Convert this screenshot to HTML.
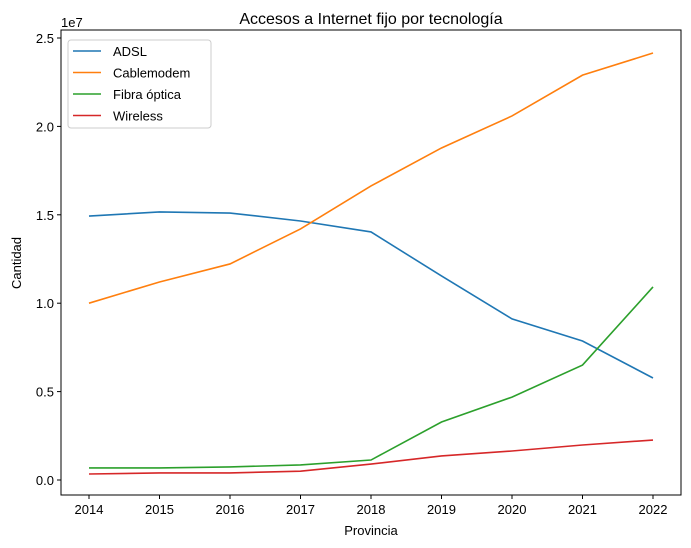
<!DOCTYPE html>
<html><head><meta charset="utf-8"><style>
body{margin:0;background:#fff;}
svg{display:block;font-family:"Liberation Sans","DejaVu Sans",sans-serif;}
</style></head><body>
<svg id="chart" width="691" height="548" viewBox="0 0 691 548"></svg>
<script>
const years=[2014,2015,2016,2017,2018,2019,2020,2021,2022];
const adsl=[1.493,1.516,1.51,1.465,1.403,1.154,0.911,0.786,0.577];
const cable=[1.0,1.12,1.222,1.42,1.663,1.878,2.059,2.29,2.415];
const fibra=[0.068,0.068,0.074,0.085,0.113,0.328,0.469,0.65,1.092];
const wireless=[0.034,0.04,0.04,0.05,0.09,0.136,0.164,0.198,0.226];
const yTicks=[0,0.5,1.0,1.5,2.0,2.5];
const yTickLabels=["0.0","0.5","1.0","1.5","2.0","2.5"];
const seriesNames=["ADSL","Cablemodem","Fibra óptica","Wireless"];
const seriesColors=["#1f77b4","#ff7f0e","#2ca02c","#d62728"];
const seriesData=[adsl,cable,fibra,wireless];

const NS="http://www.w3.org/2000/svg";
const svg=document.getElementById('chart');
const L=61,R=681,T=30,B=495;
const x=v=>89+(v-2014)*(653-89)/8;
const y=v=>480-v*(480-38)/2.5;
function mk(tag,attrs,parent){const e=document.createElementNS(NS,tag);for(const k in attrs)e.setAttribute(k,attrs[k]);(parent||svg).appendChild(e);return e;}

const title=mk('text',{x:371,y:24,'text-anchor':'middle','font-size':16,fill:'#000'});
title.textContent='Accesos a Internet fijo por tecnología';



const frame=mk('rect',{x:L,y:T,width:R-L,height:B-T,fill:'none',stroke:'#000','stroke-width':1});



years.forEach(v=>{
  const t=mk('line',{x1:x(v),x2:x(v),y1:B,y2:B+4,stroke:'#000'});
  
  
  const l=mk('text',{x:x(v),y:B+19,'text-anchor':'middle','font-size':13,fill:'#000'});
  l.textContent=v;
  
  
});
yTicks.forEach((v,i)=>{
  const t=mk('line',{x1:L-4,x2:L,y1:y(v),y2:y(v),stroke:'#000'});
  
  
  const l=mk('text',{x:L-7,y:y(v)+5,'text-anchor':'end','font-size':13,fill:'#000'});
  l.textContent=yTickLabels[i];
  
  
});
const off=mk('text',{x:61,y:27,'font-size':13,fill:'#000'});
off.textContent='1e7';


const xt=mk('text',{x:371,y:535,'text-anchor':'middle','font-size':13,fill:'#000'});
xt.textContent='Provincia';


const yt=mk('text',{x:21,y:263,'text-anchor':'middle','font-size':13,fill:'#000',transform:'rotate(-90 21 263)'});
yt.textContent='Cantidad';



seriesData.forEach((d,i)=>{
  const p=mk('polyline',{points:d.map((v,j)=>x(years[j])+','+y(v)).join(' '),fill:'none',stroke:seriesColors[i],'stroke-width':1.6});
  
  
});

const lg=mk('g',{});


mk('rect',{x:68,y:40,width:143,height:88,rx:3,fill:'#fff',stroke:'#ccc'},lg);
seriesNames.forEach((n,i)=>{
  const yy=51+i*21.5;
  const g=mk('g',{},lg);
  
  
  mk('line',{x1:73,x2:101,y1:yy,y2:yy,stroke:seriesColors[i],'stroke-width':1.6},g);
  const t=mk('text',{x:113,y:yy+5,'font-size':13,fill:'#000'},g);
  t.textContent=n;
});
</script>
</body></html>
